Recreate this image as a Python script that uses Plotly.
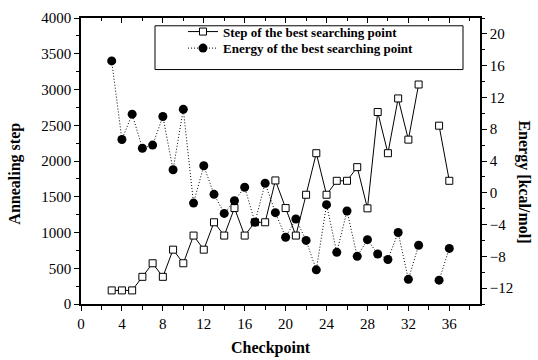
import plotly.graph_objects as go

checkpoints = list(range(3, 37))
step_values = [190, 190, 190, 380, 570, 380, 760, 570, 957, 760, 1143, 957, 1342, 957,
               1143, 1143, 1728, 1342, 957, 1528, 2109, 1528, 1723, 1723, 1914, 1338,
               2685, 2109, 2875, 2299, 3070, None, 2494, 1723]
energy_values = [16.6, 6.7, 9.9, 5.6, 6.0, 9.6, 2.9, 10.5, -1.3, 3.4, -0.2, -2.6, -1.0,
                 0.7, -3.7, 1.2, -2.5, -5.6, -3.3, -6.0, -9.7, -1.5, -7.5, -2.3, -8.0,
                 -5.9, -7.7, -8.4, -5.0, -10.9, -6.6, None, -11.0, -7.0]
x_ticks = list(range(0, 40, 4))
left_ticks = list(range(0, 4001, 500))
right_ticks = list(range(-12, 21, 4))

FONT = "Liberation Serif"
L, R, T, B = 81, 58, 10, 56
W, H = 538, 360
PW, PH = W - L - R, H - T - B


def px(xp):
    return (xp - L) / PW


def py(yp):
    return (H - B - yp) / PH


fig = go.Figure()
fig.add_trace(go.Scatter(
    x=checkpoints, y=step_values, mode="lines+markers",
    name="Step of the best searching point",
    line=dict(color="black", width=1),
    marker=dict(symbol="square", size=7, color="white", line=dict(color="black", width=1)),
    connectgaps=False, legend="legend", showlegend=True, xaxis="x", yaxis="y"))
fig.add_trace(go.Scatter(
    x=checkpoints, y=energy_values, mode="lines+markers",
    name="Energy of the best searching point",
    line=dict(color="black", width=1, dash="1px,2px"),
    marker=dict(symbol="circle", size=9, color="black"),
    connectgaps=False, legend="legend2", showlegend=True, xaxis="x2", yaxis="y2"))

axis_common = dict(showline=True, linecolor="black", linewidth=1.5, showgrid=False,
                   zeroline=False, tickcolor="black", tickwidth=1,
                   tickfont=dict(family=FONT, size=15, color="black"))

legend_common = dict(xanchor="left", yanchor="middle", bgcolor="rgba(0,0,0,0)",
                     borderwidth=0, font=dict(family=FONT, size=13, color="black", weight="bold"),
                     itemclick=False, itemdoubleclick=False)

fig.update_layout(
    width=W, height=H, margin=dict(l=L, r=R, t=T, b=B),
    paper_bgcolor="white", plot_bgcolor="white", showlegend=True,
    xaxis=dict(range=[0, 39], tickmode="array", tickvals=x_ticks, ticks="outside", ticklen=5,
               minor=dict(dtick=2, tick0=0, ticks="outside", ticklen=4, tickcolor="black"),
               **axis_common),
    xaxis2=dict(range=[0, 39], overlaying="x", side="top", anchor="y2", tickmode="array",
                tickvals=x_ticks, ticks="inside", ticklen=5, showticklabels=False,
                minor=dict(dtick=2, tick0=0, ticks="inside", ticklen=3, tickcolor="black"),
                **axis_common),
    yaxis=dict(range=[0, 4000], tickmode="array", tickvals=left_ticks, ticks="outside", ticklen=5,
               minor=dict(dtick=250, tick0=0, ticks="outside", ticklen=3, tickcolor="black"),
               **axis_common),
    yaxis2=dict(range=[-14, 22], overlaying="y", side="right", anchor="x2", tickmode="array",
                tickvals=right_ticks, ticks="outside", ticklen=5,
                minor=dict(dtick=2, tick0=0, ticks="outside", ticklen=3, tickcolor="black"),
                **axis_common),
    legend=dict(x=px(183), y=py(24), **legend_common),
    legend2=dict(x=px(183), y=py(41), **legend_common),
    shapes=[dict(type="rect", xref="paper", yref="paper", x0=px(155), x1=px(463),
                 y0=py(63), y1=py(18), line=dict(color="black", width=1), fillcolor="white",
                 layer="below")],
    annotations=[
        dict(text="<b>Checkpoint</b>", xref="paper", yref="paper", x=px(271), y=py(349),
             xanchor="center", yanchor="middle", showarrow=False,
             font=dict(family=FONT, size=16, color="black")),
        dict(text="<b>Annealing step</b>", xref="paper", yref="paper", x=px(15), y=py(170),
             xanchor="center", yanchor="middle", showarrow=False, textangle=-90,
             font=dict(family=FONT, size=16, color="black")),
        dict(text="<b>Energy [kcal/mol]</b>", xref="paper", yref="paper", x=px(524), y=py(178),
             xanchor="center", yanchor="middle", showarrow=False, textangle=90,
             font=dict(family=FONT, size=16, color="black")),
    ],
)

fig.write_html("out.html", config={"displayModeBar": False},
               post_script="document.body.style.margin='0';")
